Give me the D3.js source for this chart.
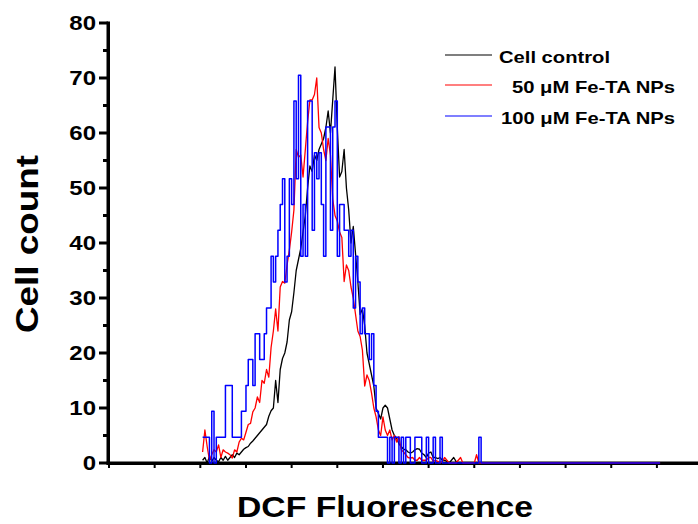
<!DOCTYPE html>
<html><head><meta charset="utf-8">
<script src="https://cdn.jsdelivr.net/npm/d3@7"></script>
<style>
body{margin:0;background:#fff}
text{font-family:Arial,"Liberation Sans",sans-serif;font-weight:bold;fill:#000}
</style></head>
<body><svg id="chart" width="698" height="524"></svg>
<script>
// histogram bins: channel of first bin and bin width (arbitrary fluorescence channel units)
const binStart = 205;
const binWidth = 5;
const tailEnd = 1207;   // last channel of the acquisition range (all series are 0 there)

const seriesNames = ["Cell control", "50 \u03BCM Fe-TA NPs", "100 \u03BCM Fe-TA NPs"];
const seriesColors = ["#000000", "#ff0000", "#0000ff"];

const controlCounts = [0.5,1,0,1.2,0.3,1,0.5,0.2,1,0.5,
 1.2,0.5,1,1.5,1,1.8,1.5,2,2.5,2.8,
 3,3.6,4,4.5,5,5.5,6,6.5,7,8.5,
 9.5,10,15,11,17,19,20,22,26,27.5,
 31,35,37,39,42,45,50,54,53,56,
 55,57,58,59,61,64,60,66,72,61,
 52,53,57,50,46,40,43,38,33,27,
 28,25,20,18,16,14,10,9,8,10,
 10.5,10,8,6,5,4.5,3.5,3,2.5,2.4,
 2,1.8,2,2.4,2.6,2.5,1.8,1.5,1,1.8,
 2,1,1,0.8,1,0.5,0.5,0.3,0,0.5,
 1,0.3,0];

const fe50Counts = [2,6,3,0.5,1.5,2.4,2,3.3,1,2.4,
 2,1.8,1.5,0.9,2.4,2,3.8,4.5,4.2,5.6,
 7,7.2,9.3,10,12,11,15,14.5,17,15.6,
 21,24,28,24,32,33,32.7,36,38.7,42,
 46,57,55.6,56,52,57,62,66,66,67,
 70,61,60,57,55,59,56,48,45,44,
 42,41,33,36,35,32,30,27,24,23,
 20.5,14,16,15,12.7,10,8.4,6,5,8.4,
 6,5,6,4.2,5,3.8,4.8,2.4,2,1.5,
 1,0.9,1,0.5,0.5,1,0.5,0.5,0.5,1,
 1,0.3,0.5,0.3,0,0.3,1,0.5,0,0,
 0,0,0.5,1,0,0,0,0,0,0,
 1.5,0];

const fe100Counts = [4.7,4.7,4.7,0,9.4,0,4.7,4.7,4.7,4.7,
 14.1,14.1,14.1,4.7,4.7,4.7,4.7,9.4,9.4,14.1,
 18.8,18.8,14.1,23.5,23.5,18.8,18.8,23.5,28.2,28.2,
 37.6,32.9,37.6,42.3,47,51.7,32.9,37.6,51.7,47,
 65.8,51.7,70.5,37.6,47,37.6,65.8,65.8,42.3,56.4,
 51.7,56.4,47,37.6,61.1,61.1,42.3,61.1,65.8,37.6,
 47,47,42.3,42.3,37.6,42.3,28.2,37.6,32.9,23.5,
 28.2,23.5,23.5,18.8,23.5,14.1,9.4,4.7,4.7,4.7,
 4.7,0,4.7,0,4.7,4.7,0,4.7,0,4.7,
 4.7,0,0,4.7,4.7,4.7,0,0,4.7,0,
 0,4.7,0,0,4.7,0,0,0,0,0,
 0,0,0,0,0,0,0,0,0,0,
 0,4.7,0];

const yMajorTicks = [0,10,20,30,40,50,60,70,80];
const yMinorTicks = [5,15,25,35,45,55,65,75];
const xTicks = [0,100,200,300,400,500,600,700,800,900,1000,1100,1200];
const xTitle = "DCF Fluorescence";
const yTitle = "Cell count";

const svg = d3.select("#chart");
const x = d3.scaleLinear().domain([0,1290]).range([109,698]);
const y = d3.scaleLinear().domain([0,80]).range([463,23]);

function toPoints(arr){
  const pts = arr.map((v,i)=>[binStart + binWidth*i, v]);
  pts.push([tailEnd, 0]);
  return pts;
}

// y axis
const yAxisX = 108;
svg.append("g").selectAll("line").data(yMajorTicks).join("line")
  .attr("x1", yAxisX - 9).attr("x2", yAxisX).attr("y1", d=>y(d)).attr("y2", d=>y(d))
  .style("stroke","#000").style("stroke-width","3px");
svg.append("g").selectAll("line").data(yMinorTicks).join("line")
  .attr("x1", yAxisX - 5).attr("x2", yAxisX).attr("y1", d=>y(d)).attr("y2", d=>y(d))
  .style("stroke","#000").style("stroke-width","3px");
svg.append("g").selectAll("text").data(yMajorTicks).join("text")
  .attr("x", 96).attr("y", d=>y(d)).attr("dy","0.36em").attr("text-anchor","end")
  .attr("font-size",20).text(d=>d)
  .each(function(){
    const L = this.getComputedTextLength();
    d3.select(this).attr("textLength", L*1.2).attr("lengthAdjust","spacingAndGlyphs");
  });
svg.append("rect").attr("x",yAxisX-1.5).attr("y",y(80)-1.5).attr("width",3.5).attr("height",y(0)-y(80)+3)
  .style("fill","#000");

// x axis
svg.append("g").selectAll("line").data(xTicks).join("line")
  .attr("x1", d=>x(d)).attr("x2", d=>x(d)).attr("y1", y(0)).attr("y2", y(0)+5)
  .style("stroke","#000").style("stroke-width","2px");
svg.append("rect").attr("x",yAxisX-1.5).attr("y",y(0)-1.5).attr("width",698-yAxisX+1.5).attr("height",3.5)
  .style("fill","#000");

// series
const lineLin = d3.line().x(d=>x(d[0])).y(d=>y(d[1]));
const lineStep = d3.line().x(d=>x(d[0])).y(d=>y(d[1])).curve(d3.curveStepAfter);
const data = [controlCounts, fe50Counts, fe100Counts];
data.forEach((arr,k)=>{
  svg.append("path")
    .attr("fill","none").attr("stroke",seriesColors[k])
    .attr("stroke-width", k===2 ? 1.5 : 1.3)
    .attr("stroke-linejoin","round")
    .attr("d", k===2 ? lineStep(toPoints(arr)) : lineLin(toPoints(arr)));
});

// legend
const legY = [55, 85, 116];
const legTextX = [499, 512, 501];
const legW = [111, 163, 174];
seriesNames.forEach((name,k)=>{
  svg.append("line").attr("x1",445).attr("x2",492).attr("y1",legY[k]).attr("y2",legY[k])
    .attr("stroke",seriesColors[k]).attr("stroke-width",1.2);
  svg.append("text").attr("x",legTextX[k]).attr("y",legY[k]+8).attr("font-size",17)
    .attr("textLength",legW[k]).attr("lengthAdjust","spacingAndGlyphs").text(name);
});

// titles
svg.append("text").attr("x",237).attr("y",517).attr("font-size",30)
  .attr("textLength",296).attr("lengthAdjust","spacingAndGlyphs").text(xTitle);
svg.append("text").attr("transform","translate(38,333) rotate(-90)").attr("font-size",31)
  .attr("textLength",178).attr("lengthAdjust","spacingAndGlyphs").text(yTitle);
</script></body></html>
